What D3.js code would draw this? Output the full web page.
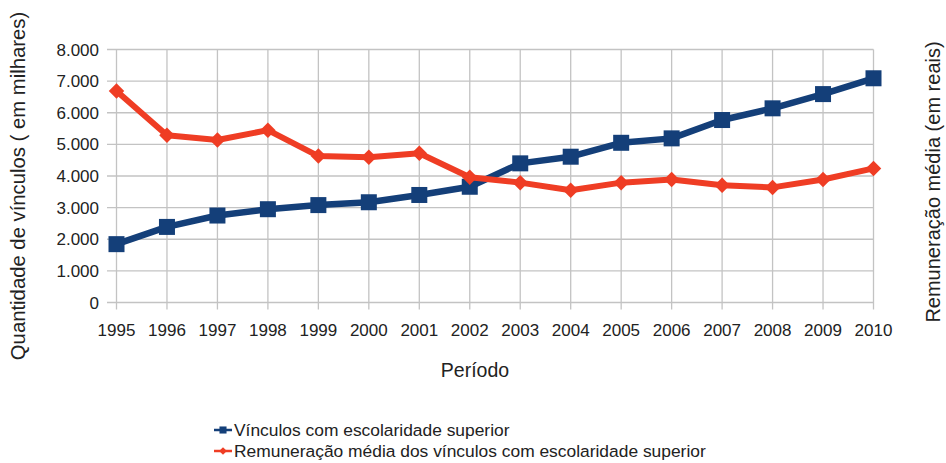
<!DOCTYPE html>
<html>
<head>
<meta charset="utf-8">
<script src="https://cdn.jsdelivr.net/npm/d3@7"></script>
<style>
  body { margin: 0; background: #fff; }
  svg { display: block; font-family: "Liberation Sans", Arial, sans-serif; }
</style>
</head>
<body>
<svg id="grafico" width="946" height="463"></svg>
<script>
// dados
const anos = [1995, 1996, 1997, 1998, 1999, 2000, 2001, 2002, 2003, 2004, 2005, 2006, 2007, 2008, 2009, 2010];
const vinculos = [1845, 2390, 2750, 2950, 3080, 3170, 3400, 3660, 4400, 4610, 5050, 5190, 5770, 6140, 6590, 7090];
const remuneracao = [6690, 5290, 5140, 5450, 4630, 4590, 4720, 3960, 3790, 3550, 3790, 3890, 3710, 3640, 3890, 4240];
const ticksY = [0, 1000, 2000, 3000, 4000, 5000, 6000, 7000, 8000];

const svg = d3.select("#grafico");
const azul = "#143f79";
const vermelho = "#ef3d24";
const grade = "#c3c3c3";

const x = d3.scalePoint().domain(anos).range([116.5, 873.5]);
const y = d3.scaleLinear().domain([0, 8000]).range([302.5, 49.5]);

const fmt = d => d3.format(",")(d).replace(/,/g, ".");

// grade horizontal
svg.append("g")
  .selectAll("line")
  .data(ticksY)
  .enter()
  .append("line")
  .attr("x1", 107)
  .attr("x2", x(2010))
  .attr("y1", d => y(d))
  .attr("y2", d => y(d))
  .attr("stroke", grade)
  .attr("stroke-width", 1.3);

// grade vertical
svg.append("g")
  .selectAll("line")
  .data(anos)
  .enter()
  .append("line")
  .attr("x1", d => x(d))
  .attr("x2", d => x(d))
  .attr("y1", y(8000))
  .attr("y2", 309.5)
  .attr("stroke", grade)
  .attr("stroke-width", 1.3);

// rotulos eixo y
svg.append("g")
  .selectAll("text")
  .data(ticksY)
  .enter()
  .append("text")
  .attr("x", 99)
  .attr("y", d => y(d))
  .attr("dy", "0.36em")
  .attr("text-anchor", "end")
  .attr("fill", "#222")
  .style("font-size", "17px")
  .text(fmt);

// rotulos eixo x
svg.append("g")
  .selectAll("text")
  .data(anos)
  .enter()
  .append("text")
  .attr("x", d => x(d))
  .attr("y", 336)
  .attr("text-anchor", "middle")
  .attr("fill", "#222")
  .style("font-size", "17px")
  .text(d => d);

// titulos
svg.append("text")
  .attr("x", 475)
  .attr("y", 377)
  .attr("text-anchor", "middle")
  .attr("fill", "#222")
  .style("font-size", "19.5px")
  .text("Período");

svg.append("text")
  .attr("transform", "translate(25,186) rotate(-90)")
  .attr("text-anchor", "middle")
  .attr("fill", "#222")
  .style("font-size", "20.3px")
  .text("Quantidade de vínculos ( em milhares)");

svg.append("text")
  .attr("transform", "translate(940,182) rotate(-90)")
  .attr("text-anchor", "middle")
  .attr("fill", "#222")
  .style("font-size", "20px")
  .text("Remuneração média (em reais)");

// series
const linha = d3.line().x((d, i) => x(anos[i])).y(d => y(d));

svg.append("path")
  .datum(vinculos)
  .attr("d", linha)
  .attr("fill", "none")
  .attr("stroke", azul)
  .attr("stroke-width", 6.5)
  .attr("stroke-linejoin", "round");

svg.append("g")
  .selectAll("rect")
  .data(vinculos)
  .enter()
  .append("rect")
  .attr("x", (d, i) => x(anos[i]) - 8)
  .attr("y", d => y(d) - 8)
  .attr("width", 16)
  .attr("height", 16)
  .attr("fill", azul);

svg.append("path")
  .datum(remuneracao)
  .attr("d", linha)
  .attr("fill", "none")
  .attr("stroke", vermelho)
  .attr("stroke-width", 6)
  .attr("stroke-linejoin", "round");

svg.append("g")
  .selectAll("path")
  .data(remuneracao)
  .enter()
  .append("path")
  .attr("transform", (d, i) => `translate(${x(anos[i])},${y(d)}) rotate(45)`)
  .attr("d", d3.symbol().type(d3.symbolSquare).size(120))
  .attr("fill", vermelho);

// legenda
const legenda = [
  { nome: "Vínculos com escolaridade superior", cor: azul, tipo: "quadrado", yy: 430 },
  { nome: "Remuneração média dos vínculos com escolaridade superior", cor: vermelho, tipo: "losango", yy: 451 }
];

const itens = svg.append("g")
  .selectAll("g")
  .data(legenda)
  .enter()
  .append("g");

itens.append("line")
  .attr("x1", 214)
  .attr("x2", 232)
  .attr("y1", d => d.yy)
  .attr("y2", d => d.yy)
  .attr("stroke", d => d.cor)
  .attr("stroke-width", 2.5);

itens.append("path")
  .attr("transform", d => d.tipo === "quadrado" ? `translate(223,${d.yy})` : `translate(223,${d.yy}) rotate(45)`)
  .attr("d", d => d.tipo === "quadrado" ? d3.symbol().type(d3.symbolSquare).size(50)() : d3.symbol().type(d3.symbolSquare).size(30)())
  .attr("fill", d => d.cor);

itens.append("text")
  .attr("x", 234)
  .attr("y", d => d.yy)
  .attr("dy", "0.36em")
  .attr("fill", "#222")
  .style("font-size", "17.4px")
  .text(d => d.nome);
</script>
</body>
</html>
